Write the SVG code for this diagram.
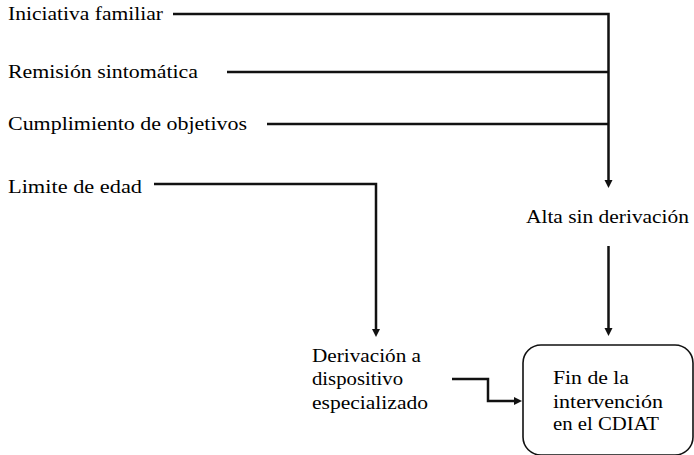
<svg xmlns="http://www.w3.org/2000/svg" width="694" height="455" viewBox="0 0 694 455">
<defs>
<marker id="ah" markerUnits="userSpaceOnUse" markerWidth="9" markerHeight="9" refX="4" refY="4" orient="auto" viewBox="0 0 9 8">
<path d="M0,0 L8,4 L0,8 z" fill="#111"/>
</marker>
</defs>
<rect width="694" height="455" fill="#fff"/>
<g id="connectors" fill="none" stroke="#111" stroke-width="2.5">
<path d="M173,14 H608.5 V184" marker-end="url(#ah)"/>
<path d="M227,72 H608.5"/>
<path d="M267,124 H608.5"/>
<path d="M154,184 H376 V333" marker-end="url(#ah)"/>
<path d="M608.5,246 V332" marker-end="url(#ah)"/>
<path d="M452,379 H488 V401 H518" marker-end="url(#ah)"/>
</g>
<g id="n-iniciativa"><text x="8" y="20" font-family="Liberation Serif" font-size="19" style="font-family:'Liberation Serif',serif !important;font-size:19px !important" textLength="155" lengthAdjust="spacingAndGlyphs">Iniciativa familiar</text></g>
<g id="n-remision"><text x="8" y="78" font-family="Liberation Serif" font-size="19" style="font-family:'Liberation Serif',serif !important;font-size:19px !important" textLength="190" lengthAdjust="spacingAndGlyphs">Remisión sintomática</text></g>
<g id="n-cumplimiento"><text x="8" y="130" font-family="Liberation Serif" font-size="19" style="font-family:'Liberation Serif',serif !important;font-size:19px !important" textLength="239" lengthAdjust="spacingAndGlyphs">Cumplimiento de objetivos</text></g>
<g id="n-limite"><text x="8" y="193" font-family="Liberation Serif" font-size="19" style="font-family:'Liberation Serif',serif !important;font-size:19px !important" textLength="134" lengthAdjust="spacingAndGlyphs">Limite de edad</text></g>
<g id="n-alta"><text x="526" y="223" font-family="Liberation Serif" font-size="19" style="font-family:'Liberation Serif',serif !important;font-size:19px !important" textLength="163" lengthAdjust="spacingAndGlyphs">Alta sin derivación</text></g>
<g id="n-derivacion">
<text x="312" y="362" font-family="Liberation Serif" font-size="19" style="font-family:'Liberation Serif',serif !important;font-size:19px !important" textLength="109" lengthAdjust="spacingAndGlyphs">Derivación a</text>
<text x="312" y="385" font-family="Liberation Serif" font-size="19" style="font-family:'Liberation Serif',serif !important;font-size:19px !important" textLength="91" lengthAdjust="spacingAndGlyphs">dispositivo</text>
<text x="312" y="409" font-family="Liberation Serif" font-size="19" style="font-family:'Liberation Serif',serif !important;font-size:19px !important" textLength="116" lengthAdjust="spacingAndGlyphs">especializado</text>
</g>
<g id="n-fin">
<rect x="523" y="345" width="170" height="110" rx="18" ry="18" fill="#fff" stroke="#111" stroke-width="1.6"/>
<text x="553" y="384" font-family="Liberation Serif" font-size="19" style="font-family:'Liberation Serif',serif !important;font-size:19px !important" textLength="76" lengthAdjust="spacingAndGlyphs">Fin de la</text>
<text x="553" y="408" font-family="Liberation Serif" font-size="19" style="font-family:'Liberation Serif',serif !important;font-size:19px !important" textLength="110" lengthAdjust="spacingAndGlyphs">intervención</text>
<text x="553" y="430" font-family="Liberation Serif" font-size="19" style="font-family:'Liberation Serif',serif !important;font-size:19px !important" textLength="106" lengthAdjust="spacingAndGlyphs">en el CDIAT</text>
</g>
</svg>
